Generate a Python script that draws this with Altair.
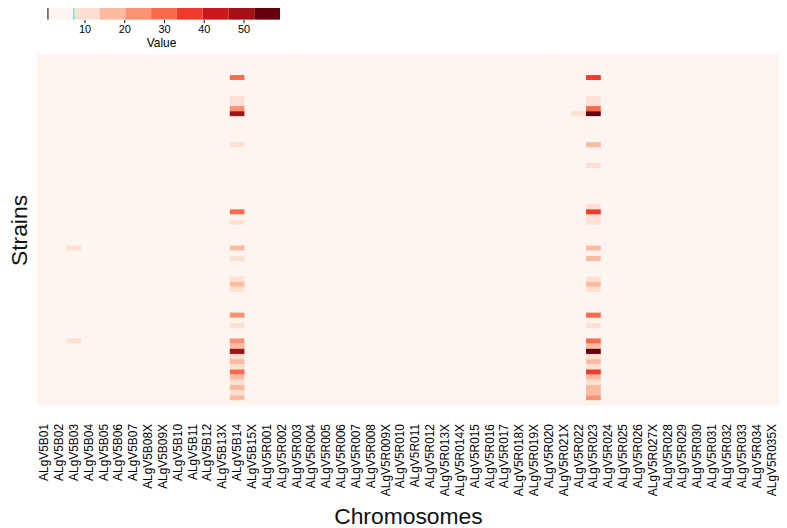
import altair as alt
import numpy as np
import pandas as pd

# ---------------- data ----------------
chromosomes = [
    "ALgV5B01", "ALgV5B02", "ALgV5B03", "ALgV5B04", "ALgV5B05", "ALgV5B06", "ALgV5B07",
    "ALgV5B08X", "ALgV5B09X", "ALgV5B10", "ALgV5B11", "ALgV5B12", "ALgV5B13X", "ALgV5B14",
    "ALgV5B15X", "ALgV5R001", "ALgV5R002", "ALgV5R003", "ALgV5R004", "ALgV5R005",
    "ALgV5R006", "ALgV5R007", "ALgV5R008", "ALgV5R009X", "ALgV5R010", "ALgV5R011",
    "ALgV5R012", "ALgV5R013X", "ALgV5R014X", "ALgV5R015", "ALgV5R016", "ALgV5R017",
    "ALgV5R018X", "ALgV5R019X", "ALgV5R020", "ALgV5R021X", "ALgV5R022", "ALgV5R023",
    "ALgV5R024", "ALgV5R025", "ALgV5R026", "ALgV5R027X", "ALgV5R028", "ALgV5R029",
    "ALgV5R030", "ALgV5R031", "ALgV5R032", "ALgV5R033", "ALgV5R034", "ALgV5R035X",
]
strains = ["Strain%02d" % (i + 1) for i in range(68)]

# non-zero cells, per chromosome (row index counted from the top)
b03_rows = [37, 55]
b03_vals = [8, 8]
b14_rows = [4, 8, 9, 10, 11, 17, 30, 32, 37, 39, 43, 44, 45, 50, 52, 55, 56, 57,
            58, 59, 60, 61, 62, 63, 64, 65, 66]
b14_vals = [29, 8, 8, 25, 50, 8, 29, 8, 16, 8, 8, 16, 8, 23, 8, 23, 16, 50,
            8, 16, 8, 29, 16, 8, 16, 8, 16]
r021x_rows = [37, 55]
r021x_vals = [7, 7]
r022_rows = [11]
r022_vals = [8]
r023_rows = [4, 8, 9, 10, 11, 17, 21, 29, 30, 31, 32, 37, 39, 43, 44, 45, 50, 52,
             55, 56, 57, 58, 59, 60, 61, 62, 63, 64, 65, 66]
r023_vals = [36, 8, 8, 29, 58, 16, 8, 8, 36, 8, 8, 16, 16, 8, 16, 8, 29, 8,
             29, 16, 58, 8, 16, 8, 36, 16, 8, 16, 16, 23]

reds9 = ["#fff5f0", "#fee0d2", "#fcbba1", "#fc9272", "#fb6a4a",
         "#ef3b2c", "#cb181d", "#a50f15", "#67000d"]
key_low, key_high = 0.8, 59.2
key_ticks = [10, 20, 30, 40, 50]

# ---------------- tables ----------------
nonzero = {}
for name, rws, vls in [("ALgV5B03", b03_rows, b03_vals), ("ALgV5B14", b14_rows, b14_vals),
                       ("ALgV5R021X", r021x_rows, r021x_vals), ("ALgV5R022", r022_rows, r022_vals),
                       ("ALgV5R023", r023_rows, r023_vals)]:
    for r, v in zip(rws, vls):
        nonzero[(name, r)] = v

records = []
for ri, s in enumerate(strains):
    for c in chromosomes:
        records.append({"Strain": s, "Chromosome": c, "Value": nonzero.get((c, ri), 0)})
df = pd.DataFrame(records)

edges = np.linspace(key_low, key_high, 10)
thresholds = [float(e) for e in edges[1:-1]]

key_df = pd.DataFrame({"start": edges[:-1], "end": edges[1:], "color": reds9})
cyan_df = pd.DataFrame({"x": [float(edges[1])]})
kaxis_df = pd.DataFrame({"x": [key_low]})

FONT = "Liberation Sans"
W = 747

# ---------------- colour key ----------------
kx = alt.Scale(domain=[-2, -2 + W / 4.0], nice=False, zero=False)
key_rect = alt.Chart(key_df).mark_rect().encode(
    x=alt.X("start:Q", scale=kx,
            axis=alt.Axis(values=key_ticks, title="Value", domain=False, grid=False,
                          tickSize=3, tickColor="black", labelFontSize=11, labelPadding=1,
                          labelColor="black", labelFont=FONT,
                          titleFont=FONT, titleFontSize=12, titleFontWeight="normal",
                          titleColor="black", titleX=125, titleAlign="center", titlePadding=3)),
    x2="end:Q",
    color=alt.Color("color:N", scale=None),
)
key_cyan = alt.Chart(cyan_df).mark_rule(color="cyan", strokeWidth=1).encode(x=alt.X("x:Q", scale=kx))
key_axis = alt.Chart(kaxis_df).mark_rule(color="black", strokeWidth=1).encode(x=alt.X("x:Q", scale=kx))
key = alt.layer(key_rect, key_cyan, key_axis).properties(
    width=W, height=14, view=alt.ViewBackground(stroke=None)
)

# ---------------- heatmap ----------------
heat = alt.Chart(df).mark_rect().encode(
    x=alt.X("Chromosome:N", sort=chromosomes,
            scale=alt.Scale(paddingInner=0, paddingOuter=0),
            axis=alt.Axis(title="Chromosomes", labelAngle=-90, ticks=False, domain=False,
                          labelPadding=18, labelFontSize=12, labelFont=FONT, labelColor="black",
                          titleFont=FONT, titleFontSize=23, titleFontWeight="normal",
                          titleColor="#111111", titlePadding=10)),
    y=alt.Y("Strain:N", sort=strains,
            scale=alt.Scale(paddingInner=0, paddingOuter=0),
            axis=alt.Axis(title="Strains", labels=False, ticks=False, domain=False,
                          titleFont=FONT, titleFontSize=23, titleFontWeight="normal",
                          titleColor="#111111", titlePadding=5)),
    color=alt.Color("Value:Q", scale=alt.Scale(type="threshold", domain=thresholds, range=reds9),
                    legend=None),
).properties(width=W, height=353.5,
             view=alt.ViewBackground(fill="#fff5f0", stroke=None))

chart = alt.vconcat(key, heat, spacing=6).properties(
    padding={"top": -5, "left": 1, "right": 0, "bottom": 0},
    background="white",
)

chart.save("out.html", embed_options={"renderer": "svg", "actions": False})
